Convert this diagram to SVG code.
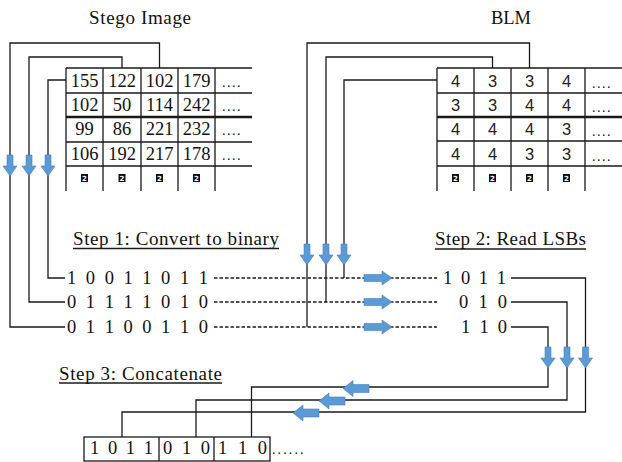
<svg xmlns="http://www.w3.org/2000/svg" width="622" height="462" viewBox="0 0 622 462">
<style>
  .ln { stroke: #1a1a1a; stroke-width: 1.3; fill: none; }
  .thick { stroke: #1a1a1a; stroke-width: 2.4; fill: none; }
  .dash { stroke: #1a1a1a; stroke-width: 1.3; fill: none; stroke-dasharray: 3.5 2; }
  .serif { font-family: "Liberation Serif", "Times New Roman", serif; fill: #111; }
  .sans { font-family: "Liberation Sans", Arial, sans-serif; fill: #222; }
  .num { font-size: 18.5px; text-anchor: middle; }
  .blm { font-size: 16.5px; text-anchor: middle; }
  .dots { font-size: 14px; letter-spacing: 1.5px; }
  .bin { font-size: 18.5px; }
  .title { font-size: 19px; }
  .icon { fill: #111; }
  .icontx { font-family: "DejaVu Sans", sans-serif; font-size: 7px; font-weight: bold; fill: #fff; text-anchor: middle; }
  .arrow { fill: #5B9BD5; stroke: #4A7EBB; stroke-width: 0.6; }
</style>
<defs>
  <path id="adown" d="M-3,0 H3 V11 H7 L0,21 L-7,11 H-3 Z"/>
  <path id="aright" d="M0,-3.5 H18 V-7 L28,0 L18,7 V3.5 H0 Z"/>
  <path id="aleft" d="M26,-4 H10 V-8 L0,0 L10,8 V4 H26 Z"/>
</defs>
<rect width="622" height="462" fill="#ffffff"/>

<g id="stego-image">
  <text class="serif title" x="89" y="24" textLength="102" lengthAdjust="spacing">Stego Image</text>
  <path class="ln" d="M66,68 H252 M66,93 H252 M66,142 H252 M66,166 H252"/>
  <path class="thick" d="M66,117 H252"/>
  <path class="ln" d="M66,68 V191 M103,68 V191 M141,68 V191 M178,68 V191 M215,68 V191"/>
  <g class="serif num">
    <text x="84.5" y="87">155</text><text x="122" y="87">122</text><text x="159.5" y="87">102</text><text x="196.5" y="87">179</text>
    <text x="84.5" y="111">102</text><text x="122" y="111">50</text><text x="159.5" y="111">114</text><text x="196.5" y="111">242</text>
    <text x="84.5" y="135">99</text><text x="122" y="135">86</text><text x="159.5" y="135">221</text><text x="196.5" y="135">232</text>
    <text x="84.5" y="160">106</text><text x="122" y="160">192</text><text x="159.5" y="160">217</text><text x="196.5" y="160">178</text>
  </g>
  <g class="serif dots">
    <text x="222" y="87">....</text><text x="222" y="111">....</text><text x="222" y="135">....</text><text x="222" y="160">....</text>
  </g>
  <g>
    <rect class="icon" x="81" y="174" width="7" height="8"/><text class="icontx" x="84.5" y="180.5">2</text>
    <rect class="icon" x="118.5" y="174" width="7" height="8"/><text class="icontx" x="122" y="180.5">2</text>
    <rect class="icon" x="156" y="174" width="7" height="8"/><text class="icontx" x="159.5" y="180.5">2</text>
    <rect class="icon" x="193" y="174" width="7" height="8"/><text class="icontx" x="196.5" y="180.5">2</text>
  </g>
</g>

<g id="blm">
  <text class="serif title" x="491" y="24" textLength="40" lengthAdjust="spacingAndGlyphs">BLM</text>
  <path class="ln" d="M437,68 H622 M437,93 H622 M437,141 H622 M437,166 H622"/>
  <path class="thick" d="M437,117 H622"/>
  <path class="ln" d="M437,68 V191 M474,68 V191 M511,68 V191 M548,68 V191 M585,68 V191"/>
  <g class="sans blm">
    <text x="455.5" y="87">4</text><text x="492.5" y="87">3</text><text x="529.5" y="87">3</text><text x="566.5" y="87">4</text>
    <text x="455.5" y="111">3</text><text x="492.5" y="111">3</text><text x="529.5" y="111">4</text><text x="566.5" y="111">4</text>
    <text x="455.5" y="135">4</text><text x="492.5" y="135">4</text><text x="529.5" y="135">4</text><text x="566.5" y="135">3</text>
    <text x="455.5" y="160">4</text><text x="492.5" y="160">4</text><text x="529.5" y="160">3</text><text x="566.5" y="160">3</text>
  </g>
  <g class="serif dots">
    <text x="592" y="88">....</text><text x="592" y="112">....</text><text x="592" y="136">....</text><text x="592" y="161">....</text>
  </g>
  <g>
    <rect class="icon" x="452" y="174" width="7" height="8"/><text class="icontx" x="455.5" y="180.5">2</text>
    <rect class="icon" x="489" y="174" width="7" height="8"/><text class="icontx" x="492.5" y="180.5">2</text>
    <rect class="icon" x="526" y="174" width="7" height="8"/><text class="icontx" x="529.5" y="180.5">2</text>
    <rect class="icon" x="563" y="174" width="7" height="8"/><text class="icontx" x="566.5" y="180.5">2</text>
  </g>
</g>

<g id="step1">
  <text class="serif title" x="73" y="245" textLength="206" lengthAdjust="spacing">Step 1: Convert to binary</text>
  <line class="ln" x1="73" y1="248.5" x2="279" y2="248.5" stroke-width="1"/>
  <text class="serif bin" x="67" y="284" textLength="141" lengthAdjust="spacing">1 0 0 1 1 0 1 1</text>
  <text class="serif bin" x="67" y="308" textLength="141" lengthAdjust="spacing">0 1 1 1 1 0 1 0</text>
  <text class="serif bin" x="67" y="333" textLength="141" lengthAdjust="spacing">0 1 1 0 0 1 1 0</text>
</g>

<g id="step2">
  <text class="serif title" x="435" y="245" textLength="151" lengthAdjust="spacing">Step 2: Read LSBs</text>
  <line class="ln" x1="435" y1="249" x2="586" y2="249" stroke-width="1"/>
  <text class="serif bin" x="443" y="284" textLength="63" lengthAdjust="spacing">1 0 1 1</text>
  <text class="serif bin" x="459" y="308" textLength="48" lengthAdjust="spacing">0 1 0</text>
  <text class="serif bin" x="461" y="333" textLength="46" lengthAdjust="spacing">1 1 0</text>
</g>

<g id="step3">
  <text class="serif title" x="59" y="380" textLength="163" lengthAdjust="spacing">Step 3: Concatenate</text>
  <line class="ln" x1="59" y1="383" x2="222" y2="383" stroke-width="1"/>
  <rect class="ln" x="84" y="437" width="186" height="24"/>
  <path class="ln" d="M159,437 V461 M214,437 V461"/>
  <text class="serif bin" x="90" y="454" textLength="63" lengthAdjust="spacing">1 0 1 1</text>
  <text class="serif bin" x="163" y="454" textLength="47" lengthAdjust="spacing">0 1 0</text>
  <text class="serif bin" x="218" y="454" textLength="49" lengthAdjust="spacing">1 1 0</text>
  <text class="serif dots" x="272" y="454" textLength="33" lengthAdjust="spacing">......</text>
</g>

<g id="connectors">
  <path class="ln" d="M66,80 H48 V278 H65"/>
  <path class="ln" d="M122,68 V57 H29 V302 H65"/>
  <path class="ln" d="M159.5,68 V43 H10 V327 H65"/>
  <path class="ln" d="M437,80 H344 V278"/>
  <path class="ln" d="M492.5,68 V57 H326 V302"/>
  <path class="ln" d="M529.5,68 V43 H307 V327"/>
  <path class="dash" d="M214,278 H437 M214,302 H437 M214,327 H437"/>
  <path class="ln" d="M511,278 H585.5 V412 H122 V437"/>
  <path class="ln" d="M511,302 H567 V400 H196 V437"/>
  <path class="ln" d="M511,327 H548 V387 H251.5 V437"/>
  <use href="#adown" class="arrow" x="10" y="155"/>
  <use href="#adown" class="arrow" x="29" y="155"/>
  <use href="#adown" class="arrow" x="48" y="155"/>
  <use href="#adown" class="arrow" x="307" y="244"/>
  <use href="#adown" class="arrow" x="326" y="244"/>
  <use href="#adown" class="arrow" x="344" y="244"/>
  <use href="#adown" class="arrow" x="548" y="347"/>
  <use href="#adown" class="arrow" x="567" y="347"/>
  <use href="#adown" class="arrow" x="585.5" y="347"/>
  <use href="#aright" class="arrow" x="364" y="278"/>
  <use href="#aright" class="arrow" x="364" y="302"/>
  <use href="#aright" class="arrow" x="364" y="327"/>
  <use href="#aleft" class="arrow" x="343" y="388.5"/>
  <use href="#aleft" class="arrow" x="319" y="401"/>
  <use href="#aleft" class="arrow" x="293" y="413"/>
</g>
</svg>
